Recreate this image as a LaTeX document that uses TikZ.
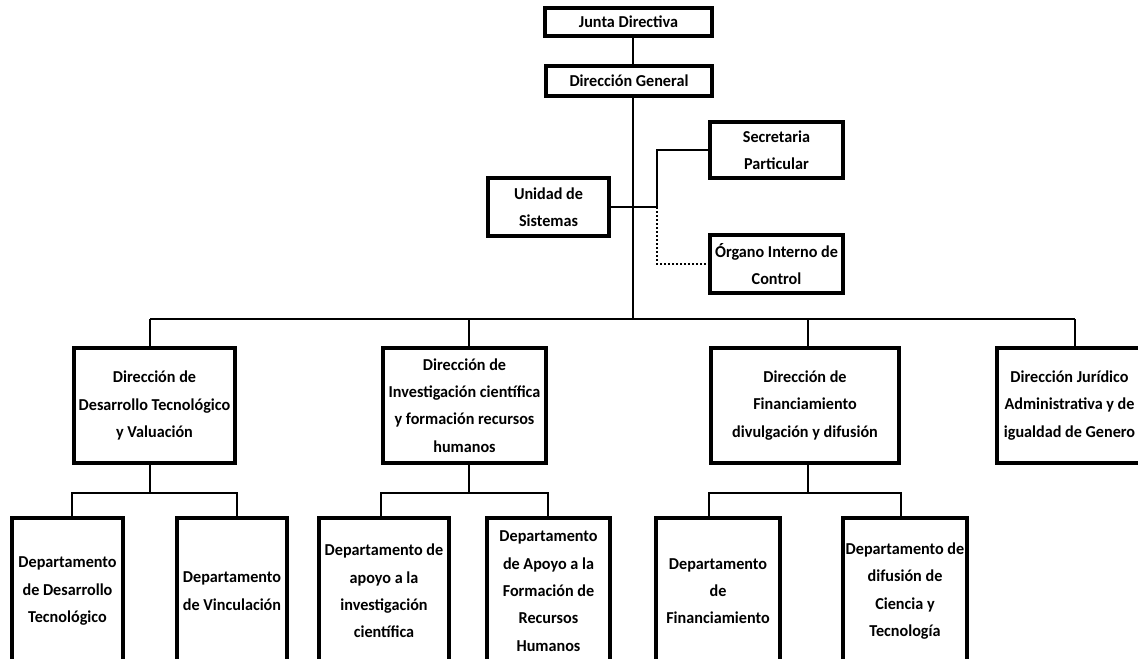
\documentclass[tikz,border=0pt]{standalone}
\usepackage{fontspec}
\setmainfont{Carlito}[FakeStretch=0.97]
\usetikzlibrary{calc}

\tikzset{every picture/.style={line width=0.75pt}}
\tikzset{
  orgbox/.style n args={2}{draw, line width=2.3pt, minimum width=#1*0.75pt, minimum height=#2*0.75pt,
    inner sep=0pt, align=center, font=\fontsize{12.5}{20.5}\selectfont\bfseries},
  link/.style={line width=1.5pt},
  dotlink/.style={line width=1.2pt, dash pattern=on 1.5pt off 1.5pt}
}

\begin{document}
\begin{tikzpicture}[x=0.75pt,y=0.75pt,yscale=-1,xscale=1]
\useasboundingbox (0,0) rectangle (1138,658);
\clip (0,0) rectangle (1138,658);

% Top boxes
\node (jd) [orgbox={167}{28}] at (628.5,22) {Junta Directiva};
\node (dg) [orgbox={166}{30}] at (629,81) {Dirección General};
\node (sp) [orgbox={133}{56}] at (776.5,150) {Secretaria\\Particular};
\node (us) [orgbox={121}{58}] at (548.5,207) {Unidad de\\Sistemas};
\node (oic) [orgbox={133}{58}] at (776.5,264) {Órgano Interno de\\Control};

% Directions
\node (ddt) [orgbox={161}{115}] at (154.5,405.5) {Dirección de\\Desarrollo Tecnológico\\y Valuación};
\node (dic) [orgbox={163}{115}] at (464.5,405.5) {Dirección de\\Investigación científica\\y formación recursos\\humanos};
\node (dfd) [orgbox={188}{115}] at (805,405.5) {Dirección de\\Financiamiento\\divulgación y difusión};
\node (dj) [orgbox={145}{115}] at (1069.5,405.5) {Dirección Jurídico\\Administrativa y de\\igualdad de Genero};

% Departments
\node (s1) [orgbox={111}{146}] at (67.5,591) {Departamento\\de Desarrollo\\Tecnológico};
\node (s2) [orgbox={110}{146}] at (232,591) {Departamento\\de Vinculación};
\node (s3) [orgbox={130}{146}] at (384,591) {Departamento de\\apoyo a la\\investigación\\científica};
\node (s4) [orgbox={123}{146}] at (548.5,591) {Departamento\\de Apoyo a la\\Formación de\\Recursos\\Humanos};
\node (s5) [orgbox={124}{146}] at (718,591) {Departamento\\de\\Financiamiento};
\node (s6) [orgbox={124}{146}] at (905,591) {Departamento de\\difusión de\\Ciencia y\\Tecnología};

% Stems
\coordinate (spine) at (633,319);
\coordinate (junc) at (657,207);
\coordinate (ddtstem) at (150,319);
\coordinate (dicstem) at (469,319);
\coordinate (dfdstem) at (808,319);
\coordinate (djstem) at (1075,319);

% Main line
\draw[link] (jd.south -| spine) -- (dg.north -| spine);
\draw[link] (dg.south -| spine) -- (spine);
\draw[link] (us.east) -- (junc);
\draw[link] (junc) |- (sp.west);
\draw[dotlink] (junc) |- (oic.west);

% Bus to directions
\draw[link] (ddtstem) -- (djstem);
\foreach \n in {ddt,dic,dfd,dj}
  \draw[link] (\n stem) -- (\n stem |- \n.north);

% Directions to departments
\foreach \n/\a/\b in {ddt/s1/s2,dic/s3/s4,dfd/s5/s6}{
  \draw[link] (\n stem |- \n.south) -- ++(0,28);
  \draw[link] (\a.north -| \n.west) |- ($(\n.south)+(0,28)$) -| (\b.north -| \n.east);
}

\end{tikzpicture}
\end{document}
